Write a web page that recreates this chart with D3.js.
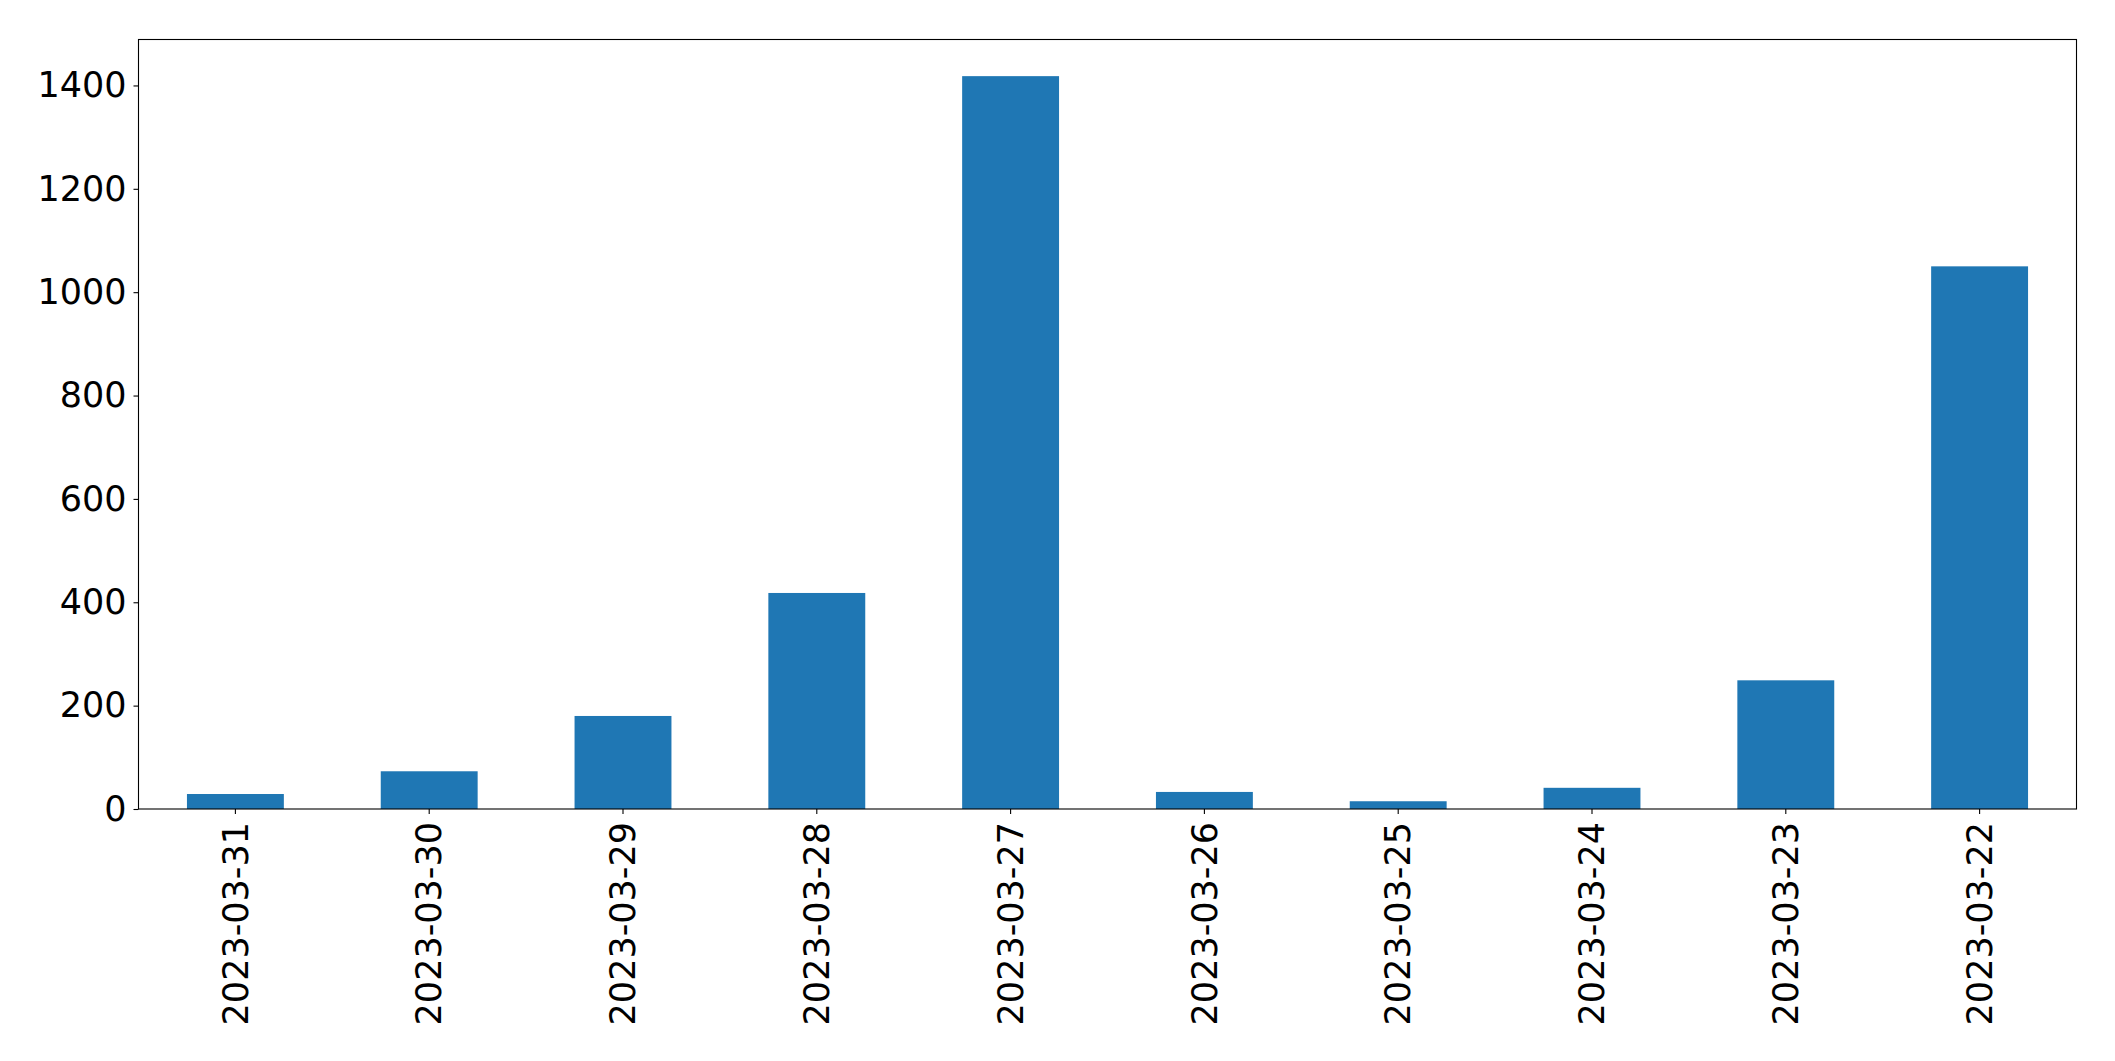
<!DOCTYPE html>
<html>
<head>
<meta charset="utf-8">
<script src="https://cdn.jsdelivr.net/npm/d3@7"></script>
<style>
  html, body { margin: 0; padding: 0; background: #fff; }
  svg { display: block; }
</style>
</head>
<body>
<script>
const categories = ["2023-03-31","2023-03-30","2023-03-29","2023-03-28","2023-03-27","2023-03-26","2023-03-25","2023-03-24","2023-03-23","2023-03-22"];
const values = [29, 73, 180, 418, 1418, 33, 15, 41, 249, 1050];
const yTicks = [0, 200, 400, 600, 800, 1000, 1200, 1400];

const W = 2115, H = 1061;
const margin = { left: 138.5, right: W - 2076.5, top: 39.5, bottom: H - 809 };
const iw = W - margin.left - margin.right;
const ih = H - margin.top - margin.bottom;

const svg = d3.select("body").append("svg").attr("width", W).attr("height", H);
const g = svg.append("g").attr("transform", `translate(${margin.left},${margin.top})`);

const x = d3.scaleBand().domain(categories).range([0, iw]).paddingInner(0.5).paddingOuter(0.25);
const y = d3.scaleLinear().domain([0, d3.max(values) * 1.05]).range([ih, 0]);

g.selectAll("rect.bar").data(values).enter().append("rect")
  .attr("class", "bar")
  .attr("x", (d, i) => x(categories[i]))
  .attr("width", x.bandwidth())
  .attr("y", d => y(d))
  .attr("height", d => ih - y(d))
  .attr("fill", "#1f77b4");

const fontFamily = "DejaVu Sans, sans-serif";
const fs = 35;

const yAxis = g.append("g").call(d3.axisLeft(y).tickValues(yTicks).tickSize(5).tickPadding(7).tickFormat(d3.format("d")));
yAxis.select(".domain").remove();
yAxis.selectAll("text").attr("font-family", fontFamily).attr("font-size", fs).attr("fill", "#000");
yAxis.selectAll("line").attr("stroke", "#000").attr("stroke-width", 1.1);

const xAxis = g.append("g").attr("transform", `translate(0,${ih})`)
  .call(d3.axisBottom(x).tickSize(5).tickPadding(8));
xAxis.select(".domain").remove();
xAxis.selectAll("line").attr("stroke", "#000").attr("stroke-width", 1.1);
xAxis.selectAll("text")
  .attr("font-family", fontFamily).attr("font-size", fs).attr("fill", "#000")
  .attr("text-anchor", "end")
  .attr("transform", "rotate(-90)")
  .attr("x", -13)
  .attr("y", 0)
  .attr("dy", "0.35em");

g.append("rect").attr("x", 0).attr("y", 0).attr("width", iw).attr("height", ih)
  .attr("fill", "none").attr("stroke", "#000").attr("stroke-width", 1.1);
</script>
</body>
</html>
